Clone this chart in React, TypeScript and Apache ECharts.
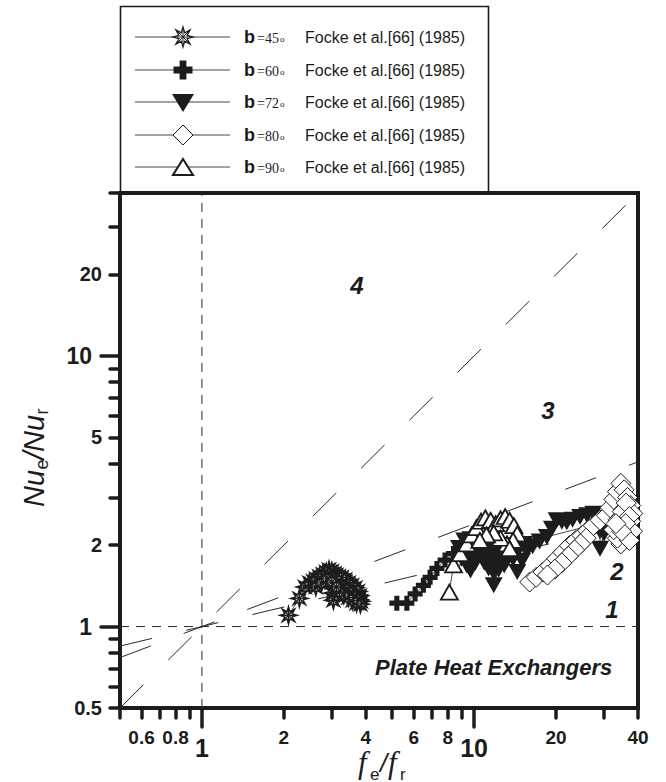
import React, { useEffect, useRef } from "react";
import * as echarts from "echarts";

// ---------- axes ----------
const axisMin = 0.5;
const axisMax = 40;
const xTicksShort = [0.5, 0.6, 0.7, 0.8, 0.9, 2, 3, 4, 5, 6, 7, 8, 9, 20, 30, 40];
const xTicksLong = [1, 10];
const xLabelsSmall = [0.6, 0.8, 2, 4, 6, 8, 20, 40];
const xLabelsBig = [1, 10];
const yTicksShort = [0.5, 0.6, 0.7, 0.8, 0.9, 2, 3, 4, 5, 6, 7, 8, 9, 20, 30, 40];
const yTicksLong = [1, 10];
const yLabelsSmall = [0.5, 2, 5, 20];
const yLabelsBig = [1, 10];

// ---------- guide lines (end points) ----------
const guideDiagonal = [[0.5, 0.5], [40, 40]];
const guideUpper = [[0.5, 0.768], [40, 4.06]];
const guideLower = [[0.5, 0.847], [40, 2.42]];
const guideUnityH = [[0.5, 1], [40, 1]];
const guideUnityV = [[1, 0.5], [1, 40]];

// ---------- data: Focke et al. (1985) ----------
const legendAngles = ["45", "60", "72", "80", "90"];
const legendSource = "Focke et al.[66] (1985)";

const data45 = [
  [2.08, 1.10], [2.28, 1.27], [2.39, 1.40], [2.48, 1.45], [2.56, 1.47], [2.63, 1.50],
  [2.70, 1.53], [2.78, 1.56], [2.86, 1.59], [2.93, 1.62], [3.00, 1.60], [3.06, 1.57],
  [3.12, 1.55], [3.18, 1.53], [3.24, 1.50], [3.30, 1.48], [3.36, 1.46], [3.42, 1.44],
  [3.48, 1.41], [3.54, 1.38], [3.60, 1.35], [3.66, 1.32], [3.72, 1.29], [3.78, 1.26],
  [3.84, 1.24], [3.80, 1.30], [3.74, 1.35], [3.66, 1.39], [3.56, 1.42], [3.46, 1.45],
  [3.36, 1.49], [3.26, 1.52], [3.16, 1.48], [3.08, 1.42], [3.02, 1.33], [3.04, 1.25],
  [3.14, 1.30], [3.26, 1.36], [3.38, 1.38], [3.50, 1.34], [3.62, 1.30], [3.72, 1.26],
  [3.82, 1.21], [3.70, 1.22], [3.58, 1.25], [3.45, 1.28], [3.32, 1.31], [3.20, 1.34],
  [2.62, 1.40], [2.75, 1.45], [2.88, 1.50], [3.00, 1.46], [3.12, 1.40],
];
const data60 = [
  [5.20, 1.22], [5.66, 1.22], [6.07, 1.32], [6.51, 1.42], [6.89, 1.52], [7.30, 1.64],
  [7.82, 1.76], [8.40, 1.86], [8.90, 1.93], [9.40, 1.98], [9.90, 2.02], [10.4, 2.05],
  [10.9, 2.08], [11.4, 2.03], [11.9, 1.98], [12.4, 1.93], [11.8, 1.88], [11.0, 1.86],
  [10.3, 1.84], [9.6, 1.82], [9.1, 1.80], [9.5, 1.90], [10.1, 1.94], [10.7, 1.96],
];
const data72 = [
  [8.8, 1.95], [9.2, 2.08], [9.7, 2.10], [10.2, 2.06], [10.7, 2.00], [11.1, 1.90],
  [11.5, 1.75], [11.8, 1.58], [11.8, 1.42], [12.3, 1.62], [12.8, 1.80], [13.3, 1.90],
  [13.9, 1.78], [14.4, 1.59], [15.0, 1.75], [15.6, 1.90], [16.4, 1.98], [17.4, 2.06],
  [18.5, 2.14], [19.3, 2.30], [20.1, 2.47], [21.0, 2.44], [21.9, 2.43], [23.0, 2.48],
  [24.5, 2.54], [26.0, 2.58], [27.4, 2.61], [28.4, 2.52], [29.0, 2.25], [29.0, 1.94],
  [30.0, 2.20], [30.6, 2.36], [31.8, 2.46], [33.0, 2.52], [34.5, 2.42], [36.0, 2.55],
  [9.0, 1.78], [9.4, 1.68], [9.7, 1.61], [10.1, 1.72], [10.5, 1.84], [10.9, 1.72],
  [11.3, 1.64], [12.0, 1.76], [12.6, 1.94], [13.1, 2.00], [13.6, 1.95], [14.1, 1.86],
  [14.7, 1.96], [15.3, 2.02], [12.9, 1.68],
];
const data80 = [
  [16.0, 1.46], [16.9, 1.52], [17.9, 1.59], [19.0, 1.68], [20.1, 1.78], [21.2, 1.88],
  [22.4, 1.99], [23.6, 2.08], [24.9, 2.17], [26.1, 2.26], [27.4, 2.36], [29.0, 2.47],
  [30.6, 2.57], [31.6, 2.75], [32.6, 2.95], [33.6, 3.15], [34.6, 3.38], [35.6, 3.20],
  [36.6, 3.00], [37.6, 2.80], [38.3, 2.62], [37.6, 2.45], [36.6, 2.30], [35.6, 2.15],
  [34.6, 2.02], [33.6, 2.12], [32.6, 2.28], [33.8, 2.48], [35.0, 2.66], [36.2, 2.86],
  [37.2, 2.55], [38.2, 2.25], [37.2, 2.08], [36.0, 2.40], [34.8, 2.25], [33.2, 2.40],
  [25.8, 2.12], [24.6, 2.02], [23.4, 1.92], [22.2, 1.82], [21.0, 1.72], [19.8, 1.63],
  [18.6, 1.55],
];
const data90 = [
  [8.11, 1.34], [8.40, 1.69], [8.9, 1.86], [9.4, 2.02], [9.8, 2.18], [10.2, 2.32],
  [10.6, 2.45], [11.0, 2.52], [11.5, 2.47], [12.0, 2.40], [12.5, 2.50], [13.0, 2.55],
  [13.5, 2.47], [14.0, 2.36], [14.4, 2.20], [13.9, 2.08], [13.2, 2.02], [12.5, 2.12],
  [11.8, 2.22], [11.1, 2.18], [10.5, 2.08], [13.5, 1.94],
];

// ---------- plot annotations ----------
const regionLabels = ["1", "2", "3", "4"];
const panelTitle = "Plate Heat Exchangers";

const INK = "#1c1c1c";
const SANS = "Liberation Sans";
const SERIF = "Liberation Serif";

function starPathD(): string {
  const pts: string[] = [];
  for (let i = 0; i < 16; i++) {
    const a = -Math.PI / 2 + (i * Math.PI) / 8;
    const r = i % 2 === 0 ? 50 : 22;
    pts.push(`${(50 + r * Math.cos(a)).toFixed(2)},${(50 + r * Math.sin(a)).toFixed(2)}`);
  }
  return "M" + pts.join(" L") + " Z M50,10 L50,90 M10,50 L90,50 M22,22 L78,78 M78,22 L22,78";
}
const STAR = "path://" + starPathD();
const CROSS = "path://M33,0 L67,0 L67,33 L100,33 L100,67 L67,67 L67,100 L33,100 L33,67 L0,67 L0,33 L33,33 Z";

const fmt = (v: number) => String(Math.round(v * 100) / 100);

function txt(text: string, x: number, y: number, o: any = {}) {
  return {
    type: "text",
    x, y, z: 20,
    silent: true,
    style: {
      text,
      fill: INK,
      fontFamily: o.family || SANS,
      fontSize: o.size || 16,
      fontWeight: o.weight || "normal",
      fontStyle: o.style || "normal",
      align: o.align || "left",
      verticalAlign: "middle",
      textAlign: o.align || "left",
      textVerticalAlign: "middle",
    },
  };
}

function legendMarker(i: number, cx: number, cy: number): any[] {
  const stroke = { stroke: INK, lineWidth: 1.3 };
  if (i === 0) {
    const pts: number[][] = [];
    for (let k = 0; k < 16; k++) {
      const a = -Math.PI / 2 + (k * Math.PI) / 8;
      const r = k % 2 === 0 ? 10 : 4.5;
      pts.push([cx + r * Math.cos(a), cy + r * Math.sin(a)]);
    }
    const els: any[] = [{ type: "polygon", z: 21, shape: { points: pts }, style: { fill: "#fff", ...stroke } }];
    for (let k = 0; k < 4; k++) {
      const a = (k * Math.PI) / 4;
      els.push({
        type: "line", z: 22,
        shape: { x1: cx - 8 * Math.cos(a), y1: cy - 8 * Math.sin(a), x2: cx + 8 * Math.cos(a), y2: cy + 8 * Math.sin(a) },
        style: { stroke: INK, lineWidth: 1 },
      });
    }
    return els;
  }
  if (i === 1) {
    const h = 9.5, t = 3.4;
    const p = [
      [-t, -h], [t, -h], [t, -t], [h, -t], [h, t], [t, t], [t, h], [-t, h], [-t, t], [-h, t], [-h, -t], [-t, -t],
    ].map(([a, b]) => [cx + a, cy + b]);
    return [{ type: "polygon", z: 21, shape: { points: p }, style: { fill: INK } }];
  }
  if (i === 2) {
    return [{ type: "polygon", z: 21, shape: { points: [[cx - 11, cy - 8], [cx + 11, cy - 8], [cx, cy + 10]] }, style: { fill: INK } }];
  }
  if (i === 3) {
    return [{ type: "polygon", z: 21, shape: { points: [[cx, cy - 10], [cx + 10, cy], [cx, cy + 10], [cx - 10, cy]] }, style: { fill: "#fff", stroke: INK, lineWidth: 1 } }];
  }
  return [{ type: "polygon", z: 21, shape: { points: [[cx, cy - 8], [cx + 10, cy + 8], [cx - 10, cy + 8]] }, style: { fill: "#fff", stroke: INK, lineWidth: 2 } }];
}

function buildGraphic(): any[] {
  const g: any[] = [];
  g.push({
    type: "rect", z: 19, silent: true,
    shape: { x: 120.5, y: 6.5, width: 368, height: 186 },
    style: { fill: "none", stroke: INK, lineWidth: 1.6 },
  });
  const rows = [37, 70, 102, 135, 167];
  legendAngles.forEach((ang, i) => {
    const y = rows[i];
    g.push({ type: "line", z: 20, shape: { x1: 135, y1: y, x2: 230, y2: y }, style: { stroke: "#444", lineWidth: 1 } });
    legendMarker(i, 183, y).forEach((e) => g.push(e));
    g.push(txt("b", 244, y, { size: 18, weight: "bold" }));
    g.push(txt("=" + ang, 257, y + 1, { size: 14, family: SERIF }));
    g.push(txt("o", 280, y + 2, { size: 9, family: SERIF }));
    g.push(txt(legendSource, 305, y, { size: 16 }));
  });

  const yTitle = [
    txt("Nu", -52, 0, { size: 29, style: "italic" }),
    txt("e", -14.5, 8, { size: 18 }),
    txt("/", -4.5, 0, { size: 29, style: "italic" }),
    txt("Nu", 3, 0, { size: 29, style: "italic" }),
    txt("r", 40.5, 8, { size: 18 }),
  ];
  g.push({ type: "group", x: 34, y: 455, rotation: Math.PI / 2, children: yTitle });

  g.push(txt("f", 358, 762, { size: 31, style: "italic", family: SERIF }));
  g.push(txt("e", 370, 774, { size: 17 }));
  g.push(txt("/", 380, 763, { size: 26, style: "italic" }));
  g.push(txt("f", 388, 762, { size: 31, style: "italic", family: SERIF }));
  g.push(txt("r", 400, 774, { size: 17 }));

  const regionPos = [[612, 609], [617, 571], [548, 410], [357, 285]];
  regionLabels.forEach((s, i) => {
    g.push(txt(s, regionPos[i][0], regionPos[i][1], { size: 24, weight: "bold", style: "italic", align: "center" }));
  });
  g.push(txt(panelTitle, 375, 667, { size: 22, weight: "bold", style: "italic" }));
  return g;
}

function guideSeries(data: number[][], dash: number[]) {
  return {
    type: "line", data, xAxisIndex: 0, yAxisIndex: 0, symbol: "none", silent: true, z: 1,
    lineStyle: { color: "#2a2a2a", width: 1, type: dash },
  };
}

function markerSeries(name: string, data: number[][], symbol: string, size: any, itemStyle: any, rotate = 0) {
  return {
    type: "line", name, data, xAxisIndex: 0, yAxisIndex: 0, silent: true,
    symbol, symbolSize: size, symbolRotate: rotate, showSymbol: true, showAllSymbol: true,
    lineStyle: { color: INK, width: 0.8 },
    itemStyle,
    emphasis: { disabled: true },
  };
}

function makeAxis(kind: "x" | "y", ticks: number[], labels: number[], tickLen: number, labelSize: number, margin: number) {
  return {
    type: "log", logBase: 10, min: axisMin, max: axisMax,
    position: kind === "x" ? "bottom" : "left",
    axisLine: { show: false },
    splitLine: { show: false },
    minorTick: { show: false },
    minorSplitLine: { show: false },
    axisTick: { show: true, customValues: ticks, length: tickLen, lineStyle: { color: INK, width: 3.5, cap: "round" } },
    axisLabel: {
      show: true, customValues: labels, margin, fontSize: labelSize, fontWeight: "bold",
      fontFamily: SANS, color: INK, formatter: fmt, hideOverlap: false,
    },
    axisPointer: { show: false },
  };
}

export default function App() {
  const ref = useRef<HTMLDivElement>(null);
  useEffect(() => {
    if (!ref.current) return;
    const chart = echarts.init(ref.current, undefined, { renderer: "svg" });
    chart.setOption({
      animation: false,
      backgroundColor: "#ffffff",
      grid: { left: 120, top: 193, width: 518, height: 515, show: true, borderWidth: 4, borderColor: INK, backgroundColor: "transparent" },
      xAxis: [
        makeAxis("x", xTicksShort, xLabelsSmall, 10, 19, 20),
        makeAxis("x", xTicksLong, xLabelsBig, 19, 25, 27),
      ],
      yAxis: [
        makeAxis("y", yTicksShort, yLabelsSmall, 10, 20, 18),
        makeAxis("y", yTicksLong, yLabelsBig, 19, 23, 28),
      ],
      series: [
        guideSeries(guideDiagonal, [33, 35]),
        guideSeries(guideUpper, [33, 35]),
        guideSeries(guideLower, [33, 35]),
        guideSeries(guideUnityH, [9, 7]),
        guideSeries(guideUnityV, [9, 7]),
        markerSeries("45", data45, STAR, 18, { color: "#fff", borderColor: INK, borderWidth: 1.3 }),
        markerSeries("60", data60, CROSS, 15, { color: INK, borderWidth: 0 }),
        markerSeries("72", data72, "triangle", [18, 16], { color: INK, borderWidth: 0 }, 180),
        markerSeries("80", data80, "diamond", [20, 20], { color: "#fff", borderColor: INK, borderWidth: 1 }),
        markerSeries("90", data90, "triangle", [17, 15], { color: "#fff", borderColor: INK, borderWidth: 1.8 }),
      ],
      graphic: buildGraphic(),
    });
    return () => chart.dispose();
  }, []);
  return <div ref={ref} style={{ position: "absolute", left: 0, top: 0, width: 666, height: 782 }} />;
}
